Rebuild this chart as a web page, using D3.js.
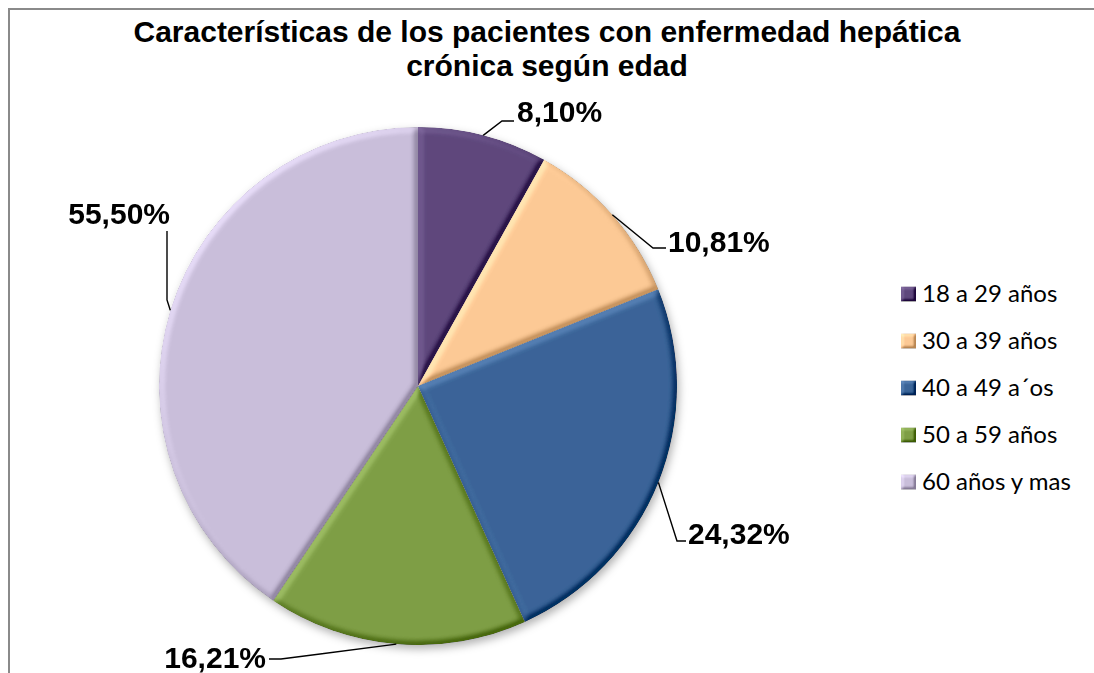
<!DOCTYPE html>
<html>
<head>
<meta charset="utf-8">
<script src="https://cdn.jsdelivr.net/npm/d3@7"></script>
<style>
  html, body { margin: 0; padding: 0; background: #fff; }
  svg { display: block; }
</style>
</head>
<body>
<svg id="chart" width="1094" height="673"></svg>
<script>
// ---- data ----
const titleLines = ["Características de los pacientes con enfermedad hepática", "crónica según edad"];
const categories = ["18 a 29 años", "30 a 39 años", "40 a 49 a´os", "50 a 59 años", "60 años y mas"];
const values = [8.10, 10.81, 24.32, 16.21, 40.56];
const valueLabels = ["8,10%", "10,81%", "24,32%", "16,21%", "55,50%"];
const colors = ["#5E477C", "#FCC995", "#3A6498", "#7E9E45", "#C9BEDA"];

// ---- layout ----
const W = 1094, H = 673;
const cx = 418, cy = 386, R = 259;
// label placement (text anchor point, leader bend & end) per slice
const labelLayout = [
  { x: 517, y: 122, anchor: "start", pts: [[502, 121], [514, 121]] },
  { x: 668, y: 252, anchor: "start", pts: [[653, 248], [666, 248]] },
  { x: 688, y: 544, anchor: "start", pts: [[677, 541], [686, 541]] },
  { x: 266, y: 668, anchor: "end",   pts: [[281, 659], [269, 659]] },
  { x: 170, y: 224, anchor: "end",   pts: [[167, 300], [167, 231]] }
];

const svg = d3.select("#chart");
const defs = svg.append("defs");

function bevel(id, sd, scale, k) {
  const f = defs.append("filter").attr("id", id)
    .attr("x", "-10%").attr("y", "-10%").attr("width", "120%").attr("height", "120%")
    .attr("color-interpolation-filters", "sRGB");
  f.append("feGaussianBlur").attr("in", "SourceAlpha").attr("stdDeviation", sd).attr("result", "blur");
  const dl = f.append("feDiffuseLighting").attr("in", "blur").attr("surfaceScale", scale)
    .attr("diffuseConstant", 1).attr("lighting-color", "#ffffff").attr("result", "light");
  const elev = 40;
  dl.append("feDistantLight").attr("azimuth", 225).attr("elevation", elev);
  const flat = Math.sin(elev * Math.PI / 180);
  f.append("feComposite").attr("in", "SourceGraphic").attr("in2", "light")
    .attr("operator", "arithmetic").attr("k1", 0).attr("k2", 1).attr("k3", k).attr("k4", -k * flat)
    .attr("result", "lit");
  f.append("feComposite").attr("in", "lit").attr("in2", "SourceAlpha").attr("operator", "in");
}
bevel("bevel", 3.2, 5, 0.32);
bevel("bevelSmall", 1.4, 3, 0.4);

const shadow = defs.append("filter").attr("id", "shadow")
  .attr("x", "-10%").attr("y", "-10%").attr("width", "125%").attr("height", "125%");
shadow.append("feDropShadow").attr("dx", 2).attr("dy", 4).attr("stdDeviation", 4)
  .attr("flood-color", "#000").attr("flood-opacity", 0.3);

// border
svg.append("path")
  .attr("d", `M9,${H} L9,9 L${W},9`)
  .attr("fill", "none").attr("stroke", "#8a8a8a").attr("stroke-width", 2);

// title
const title = svg.append("text")
  .attr("x", 547).attr("text-anchor", "middle")
  .attr("font-family", "'Liberation Sans', Arial, sans-serif")
  .attr("font-weight", "bold").attr("font-size", 30).attr("fill", "#000");
titleLines.forEach((t, i) => {
  title.append("tspan").attr("x", 547).attr("y", 42 + i * 34).text(t);
});

// pie
const pie = d3.pie().sort(null).value(d => d)(values);
const arc = d3.arc().innerRadius(0).outerRadius(R);
const g = svg.append("g").attr("transform", `translate(${cx},${cy})`);
const sg = g.append("g").attr("filter", "url(#shadow)");
sg.selectAll("path.slice").data(pie).join("path")
  .attr("class", "slice")
  .attr("d", arc)
  .attr("fill", (d, i) => colors[i])
  .attr("filter", "url(#bevel)");

// labels + leaders
const edgeArc = d3.arc().innerRadius(R).outerRadius(R);
pie.forEach((d, i) => {
  const c = edgeArc.centroid(d);
  const start = [cx + c[0], cy + c[1]];
  const L = labelLayout[i];
  const line = d3.line()([start, ...L.pts]);
  svg.append("path").attr("d", line).attr("fill", "none")
    .attr("stroke", "#000").attr("stroke-width", 1.4);
  svg.append("text")
    .attr("x", L.x).attr("y", L.y).attr("text-anchor", L.anchor)
    .attr("font-family", "'Liberation Sans', Arial, sans-serif")
    .attr("font-weight", "bold").attr("font-size", 30).attr("fill", "#000")
    .text(valueLabels[i]);
});

// legend
const legendY = d3.scalePoint().domain(categories).range([294, 482]);
const lg = svg.append("g");
categories.forEach((c, i) => {
  const y = legendY(c);
  lg.append("rect").attr("x", 901).attr("y", y - 7.5).attr("width", 15).attr("height", 15)
    .attr("fill", colors[i]).attr("filter", "url(#bevelSmall)");
  lg.append("text").attr("x", 922).attr("y", y + 8)
    .attr("font-family", "Lato, 'Open Sans', sans-serif")
    .attr("font-size", 24).attr("fill", "#000")
    .text(c);
});
</script>
</body>
</html>
